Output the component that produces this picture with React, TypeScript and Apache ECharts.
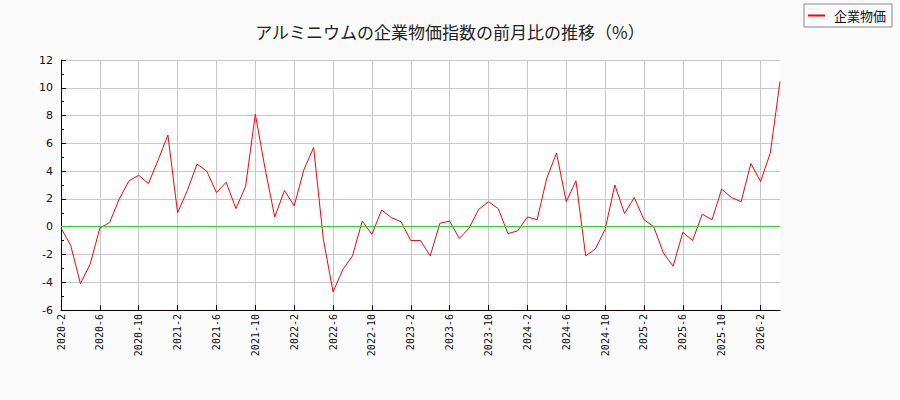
import React, { useEffect, useRef } from "react";
import * as echarts from "echarts";

const months: string[] = [];
for (let y = 2020; y <= 2026; y++) {
  for (let m = 1; m <= 12; m++) {
    if (y === 2020 && m < 2) continue;
    if (y === 2026 && m > 4) continue;
    months.push(`${y}-${m}`);
  }
}

const seriesName = "企業物価";

const values = [
  -0.1, -1.35, -4.1, -2.7, -0.1, 0.3, 2.0, 3.3, 3.7, 3.1, 4.8, 6.6,
  1.0, 2.6, 4.5, 4.0, 2.45, 3.2, 1.3, 2.9, 8.1, 4.2, 0.7, 2.6,
  1.5, 4.1, 5.7, -0.9, -4.7, -3.1, -2.1, 0.4, -0.55, 1.2, 0.65, 0.35,
  -1.0, -1.0, -2.1, 0.25, 0.4, -0.85, -0.1, 1.25, 1.8, 1.3, -0.5, -0.3,
  0.7, 0.5, 3.5, 5.3, 1.8, 3.3, -2.1, -1.6, -0.2, 3.0, 0.95, 2.1,
  0.5, 0.0, -1.9, -2.85, -0.4, -1.0, 0.9, 0.5, 2.7, 2.1, 1.8, 4.55,
  3.25, 5.3, 10.45,
];

const App = () => {
  const chartRef = useRef<HTMLDivElement>(null);

  useEffect(() => {
    document.body.style.margin = "0";
    document.body.style.background = "#fafafa";
    if (!chartRef.current) return;

    const chart = echarts.init(chartRef.current, undefined, { renderer: "svg" });

    const option: echarts.EChartsOption = {
      animation: false,
      backgroundColor: "#fafafa",
      textStyle: { fontFamily: "'DejaVu Sans', 'Noto Sans CJK JP', sans-serif" },
      title: {
        text: "アルミニウムの企業物価指数の前月比の推移（%）",
        left: "center",
        top: 18,
        textStyle: {
          fontFamily: "'Noto Sans CJK JP', sans-serif",
          fontSize: 17,
          fontWeight: "normal",
          color: "#222",
        },
      },
      legend: {
        data: [seriesName],
        right: 8,
        top: 4,
        orient: "vertical",
        borderColor: "#888",
        borderWidth: 1,
        borderRadius: 0,
        padding: [5, 6, 5, 4],
        itemWidth: 17,
        itemHeight: 2,
        itemGap: 4,
        icon: "rect",
        textStyle: {
          fontFamily: "'Noto Sans CJK JP', sans-serif",
          fontSize: 13,
          color: "#111",
          padding: [0, 0, 0, 4],
        },
      },
      grid: {
        left: 61,
        right: 120,
        top: 60,
        bottom: 90,
        show: true,
        backgroundColor: "#ffffff",
        borderWidth: 0,
      },
      xAxis: {
        type: "category",
        data: months,
        boundaryGap: false,
        axisLine: { onZero: false, lineStyle: { color: "#000", width: 1 } },
        axisTick: {
          show: true,
          inside: true,
          length: 5,
          interval: 3,
          lineStyle: { color: "#000" },
        },
        axisLabel: {
          interval: 3,
          rotate: 90,
          fontFamily: "'DejaVu Sans Mono', monospace",
          fontSize: 10,
          color: "#111",
          margin: 4,
        },
        splitLine: {
          show: true,
          interval: 3,
          lineStyle: { color: "#c8c8c8", width: 1 },
        },
      },
      yAxis: {
        type: "value",
        min: -6,
        max: 12,
        interval: 2,
        axisLine: { show: true, lineStyle: { color: "#000", width: 1 } },
        axisTick: { show: true, inside: true, length: 5, lineStyle: { color: "#000" } },
        minorTick: { show: true, splitNumber: 2, length: 3, lineStyle: { color: "#000" } },
        axisLabel: { fontSize: 11, color: "#111", margin: 8 },
        splitLine: { show: true, lineStyle: { color: "#c8c8c8", width: 1 } },
      },
      series: [
        {
          name: seriesName,
          type: "line",
          data: values,
          symbol: "none",
          lineStyle: { color: "#ff0000", width: 1 },
          itemStyle: { color: "#ff0000" },
          markLine: {
            silent: true,
            symbol: "none",
            label: { show: false },
            lineStyle: { color: "#22dd22", type: "solid", width: 1 },
            data: [{ yAxis: 0 }],
          },
        },
      ],
    };

    chart.setOption(option);

    return () => {
      chart.dispose();
    };
  }, []);

  return <div ref={chartRef} style={{ width: "900px", height: "400px" }} />;
};

export default App;
